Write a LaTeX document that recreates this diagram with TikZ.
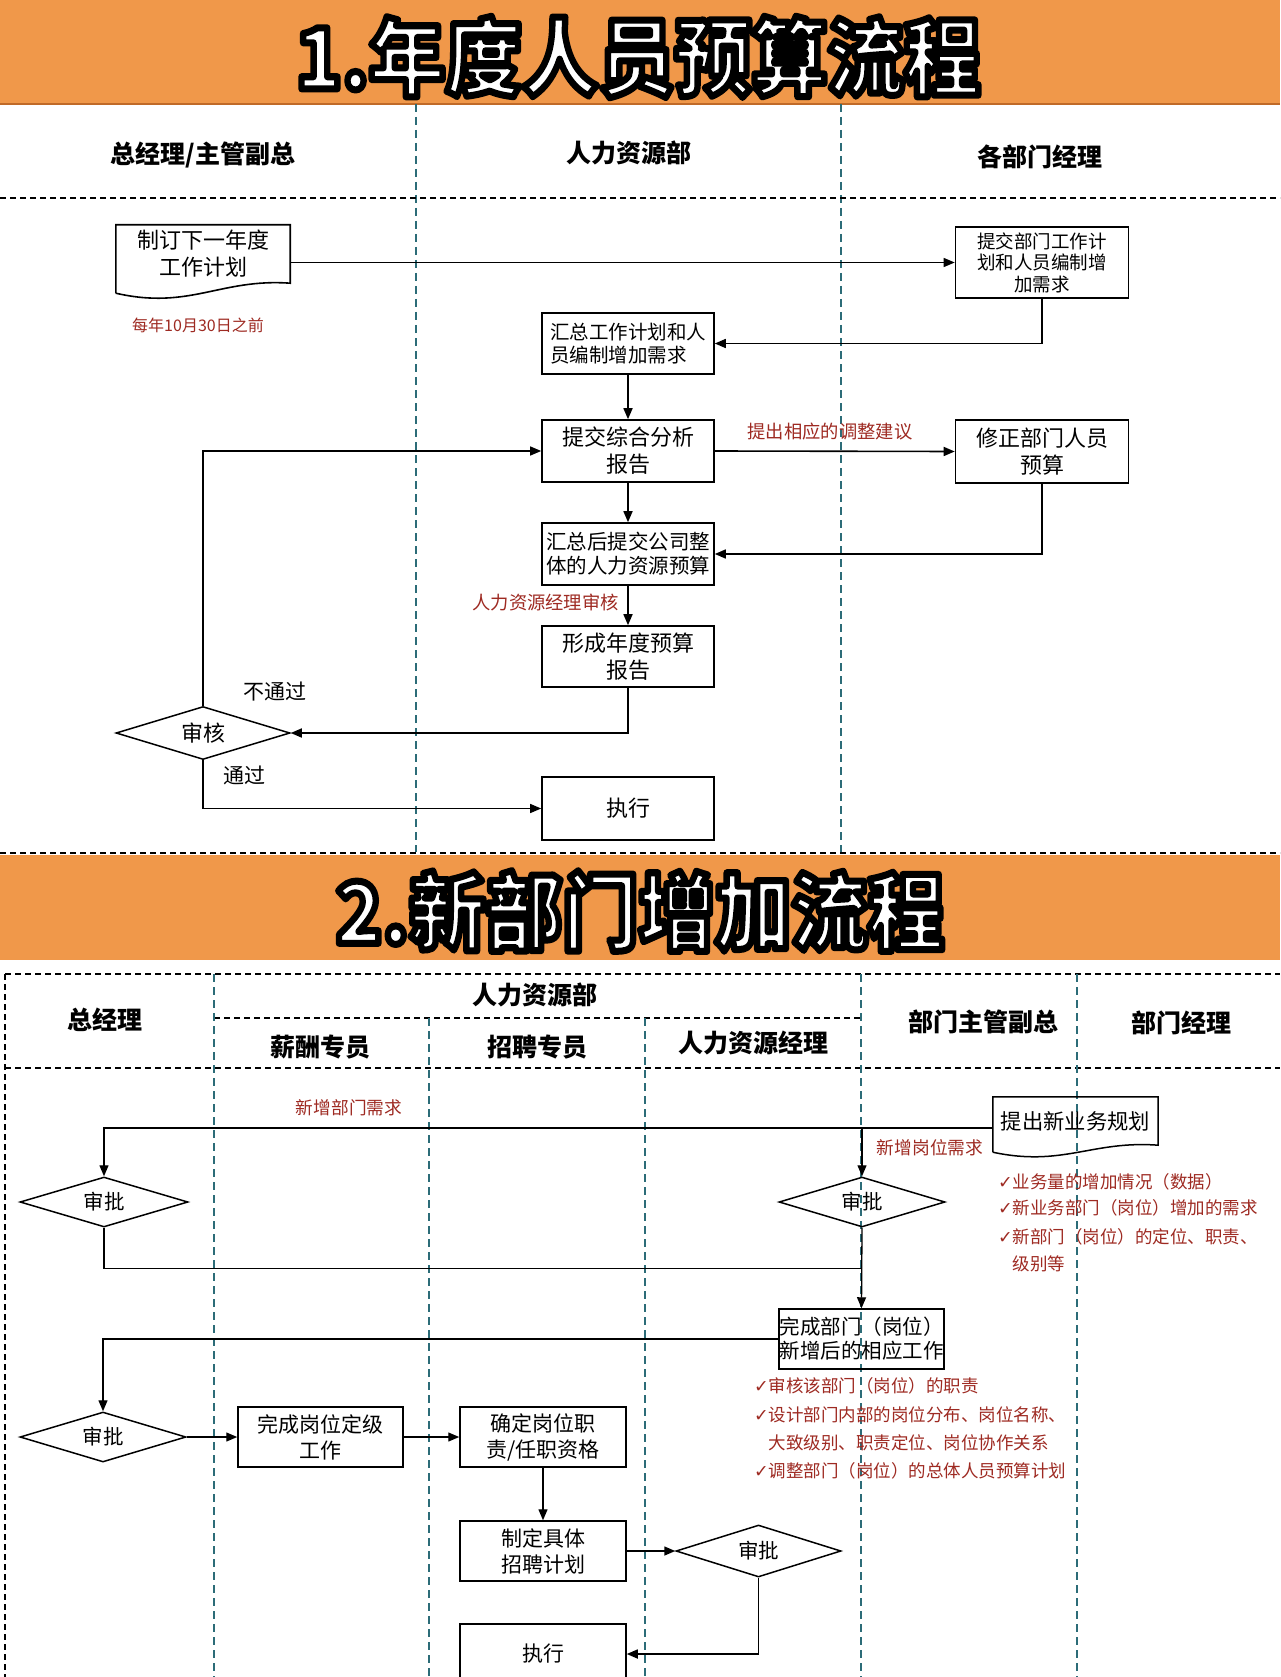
\documentclass[tikz,border=0pt]{standalone}
\usepackage{graphicx}
\usepackage{fontspec}
\setmainfont{Noto Sans CJK SC}
\newfontfamily\dejavu{DejaVu Sans}
\usetikzlibrary{arrows.meta,shapes.geometric,calc}
\definecolor{bannerorange}{HTML}{F0984A}
\definecolor{bannerline}{HTML}{C06A28}
\definecolor{laneteal}{HTML}{2C6C78}
\definecolor{notered}{HTML}{9E2A22}
\newcommand{\ck}{{\dejavu\char"2713}}
\newcommand{\fsz}[2]{\fontsize{#1}{#2}\selectfont}
\newcommand{\titletext}[1]{\scalebox{0.91}[1]{\color{white}\special{pdf:literal direct q 0 0 0 RG 7 w 1 j 2 Tr}#1\special{pdf:literal direct Q}}}
\begin{document}
\begin{tikzpicture}[x=1pt,y=-1pt,
  every node/.style={inner sep=2pt},
  lanediv/.style={draw=laneteal, line width=1.3pt, dash pattern=on 8pt off 5pt},
  borderdash/.style={draw=black, line width=2.2pt, dash pattern=on 6pt off 4pt},
  proc/.style={draw, line width=1.6pt, minimum width=172pt, minimum height=61pt, align=center, inner sep=0pt},
  procb/.style={draw, line width=1.5pt, minimum width=165pt, minimum height=60pt, align=center, inner sep=0pt, font=\fsz{21}{26}},
  doctext/.style={align=center, inner sep=0pt},
  decide/.style={draw, diamond, aspect=3, line width=1.5pt, inner sep=2pt},
  conn/.style={line width=1.6pt},
  arr/.style={line width=1.6pt, -{Triangle[length=11pt,width=9pt]}},
  thinarr/.style={line width=1.3pt, -{Triangle[length=11pt,width=9pt]}},
  lanehead/.style={font=\bfseries\fsz{25}{30}},
  note/.style={text=notered, inner sep=0pt},
  bigtitle/.style={font=\bfseries\fsz{84}{88}},
]
\useasboundingbox (0,0) rectangle (1280,1677);
\clip (0,0) rectangle (1280,1677);
\fill[white] (0,0) rectangle (1280,1677);

% ---------------- Section 1 ----------------
\fill[bannerorange] (0,0) rectangle (1280,104);
\draw[bannerline, line width=1.5pt] (0,104) -- (1280,104);

\draw[lanediv] (416,104) -- (416,852);
\draw[lanediv] (841,104) -- (841,852);
\draw[borderdash] (0,198) -- (1280,198);

\node[bigtitle] (title1) at (638,57) {\titletext{1.年度人员预算流程}};

\node[lanehead] (h11) at (203,155) {总经理/主管副总};
\node[lanehead] (h12) at (629,153) {人力资源部};
\node[lanehead] (h13) at (1040,157) {各部门经理};

% document shape 1
\node[doctext, minimum width=174pt, minimum height=58pt, font=\fsz{22}{27}] (doc1) at (203,254) {制订下一年度\\工作计划};
\draw[line width=1.6pt] ($(doc1.south west)+(0,10)$) -- (doc1.north west) -- (doc1.north east) -- (doc1.south east)
  .. controls ($(doc1.south east)+(-70,-5)$) and ($(doc1.south west)+(74,27)$) .. ($(doc1.south west)+(0,10)$);
\node[note, font=\fsz{16}{19}] (n11) at (198,325) {每年10月30日之前};

\node[proc, minimum width=173pt, minimum height=71pt, font=\fsz{18.5}{21.5}] (rbox1) at (1042,262.5) {提交部门工作计\\划和人员编制增\\加需求};
\node[proc, align=left, font=\fsz{19.5}{22.5}] (box1) at (628,343.5) {汇总工作计划和人\\员编制增加需求};
\node[proc, minimum height=62pt, font=\fsz{22}{27}] (box2) at (628,451) {提交综合分析\\报告};
\node[proc, minimum width=173pt, minimum height=63pt, font=\fsz{22}{27}] (rbox2) at (1042,451.5) {修正部门人员\\预算};
\node[proc, minimum height=62pt, font=\fsz{20.5}{24}] (box3) at (628,554) {汇总后提交公司整\\体的人力资源预算};
\node[proc, font=\fsz{22}{27}] (box4) at (628,656.5) {形成年度预算\\报告};
\node[decide, minimum width=174pt, minimum height=53pt, font=\fsz{22}{26}] (dia1) at (203,733) {审核};
\node[proc, minimum height=63pt, font=\fsz{22}{27}] (exec1) at (628,808.5) {执行};

\draw[thinarr] (doc1.east |- rbox1.west) -- (rbox1.west);
\draw[arr] (rbox1.south) |- (box1.east);
\draw[arr] (box1.south) -- (box2.north);
\draw[arr] (box2.east) -- (rbox2.west);
\node[note, font=\fsz{18.3}{22}] (n12) at (830,432) {提出相应的调整建议};
\draw[arr] (rbox2.south) |- (box3.east);
\draw[arr] (box2.south) -- (box3.north);
\draw[arr] (box3.south) -- (box4.north);
\node[note, font=\fsz{18.3}{22}, anchor=east] (n13) at (619,603) {人力资源经理审核};
\draw[arr] (box4.south) |- (dia1.east);
\draw[thinarr] (dia1.north) |- (box2.west);
\node[font=\fsz{21}{25}] (n14) at (275,692) {不通过};
\draw[thinarr] (dia1.south) |- (exec1.west);
\node[font=\fsz{21}{25}] (n15) at (244,775) {通过};

% ---------------- Section 2 ----------------
\fill[bannerorange] (0,855) rectangle (1280,960);
\draw[borderdash, line width=1.5pt] (0,853) -- (1280,853);
\node[bigtitle] (title2) at (640,911) {\titletext{2.新部门增加流程}};

\draw[borderdash] (5,974) -- (1280,974);
\draw[borderdash] (5,1068) -- (1280,1068);
\draw[borderdash] (5,974) -- (5,1677);
\draw[borderdash, line width=1.6pt] (214,1018) -- (861,1018);
\draw[lanediv] (214,974) -- (214,1677);
\draw[lanediv] (429,1018) -- (429,1677);
\draw[lanediv] (645,1018) -- (645,1677);
\draw[lanediv] (861,974) -- (861,1677);
\draw[lanediv] (1077,974) -- (1077,1677);

\node[lanehead] (h21) at (105,1020) {总经理};
\node[lanehead] (h22) at (535,995) {人力资源部};
\node[lanehead] (h23) at (320,1047) {薪酬专员};
\node[lanehead] (h24) at (537,1047) {招聘专员};
\node[lanehead] (h25) at (753,1043) {人力资源经理};
\node[lanehead] (h26) at (983,1022) {部门主管副总};
\node[lanehead] (h27) at (1181,1023) {部门经理};

% document shape 2
\node[doctext, minimum width=165pt, minimum height=48pt, font=\fsz{21.3}{25}] (doc2) at (1075.5,1121) {提出新业务规划};
\draw[line width=1.5pt] ($(doc2.south west)+(0,7)$) -- (doc2.north west) -- (doc2.north east) -- (doc2.south east)
  .. controls ($(doc2.south east)+(-66,-5)$) and ($(doc2.south west)+(70,22)$) .. ($(doc2.south west)+(0,7)$);

\node[decide, minimum width=168pt, minimum height=50pt, font=\fsz{20.5}{24}] (dia1b) at (104,1202) {审批};
\node[decide, minimum width=166pt, minimum height=50pt, font=\fsz{20.5}{24}] (dia2b) at (862,1202) {审批};
\node[procb, font=\fsz{20.5}{24}] (box5) at (861.5,1339) {完成部门（岗位）\\新增后的相应工作};
\node[decide, minimum width=166pt, minimum height=50pt, font=\fsz{20.5}{24}] (dia3b) at (103,1437) {审批};
\node[procb] (box6) at (320.5,1437) {完成岗位定级\\工作};
\node[procb, minimum width=166pt] (box7) at (543,1437) {确定岗位职\\责/任职资格};
\node[procb, minimum width=166pt] (box8) at (543,1551) {制定具体\\招聘计划};
\node[decide, minimum width=165pt, minimum height=52pt, font=\fsz{20.5}{24}] (dia4b) at (758.5,1551) {审批};
\node[procb, minimum width=166pt] (exec2) at (543,1654) {执行};

\coordinate (d2w) at ($(doc2.west)+(0,7)$);
\coordinate (m1) at ($(dia1b.south)+(0,41)$);
\draw[thinarr] (d2w) -| (dia1b.north);
\draw[thinarr] (dia2b.north |- d2w) -- (dia2b.north);
\node[note, font=\fsz{17.7}{21}] (n21) at (349,1108) {新增部门需求};
\node[note, font=\fsz{17.7}{21}] (n22) at (930,1148) {新增岗位需求};
\draw[line width=1.3pt] (dia1b.south) |- (dia2b.south |- m1);
\draw[thinarr] (dia2b.south) -- (box5.north);
\draw[thinarr] (box5.west) -| (dia3b.north);
\draw[thinarr] (dia3b.east) -- (box6.west);
\draw[thinarr] (box6.east) -- (box7.west);
\draw[thinarr] (box7.south) -- (box8.north);
\draw[arr] (box8.east) -- (dia4b.west);
\draw[arr] (dia4b.south) |- (exec2.east);

\begin{scope}[every node/.style={note, anchor=west, font=\fsz{17.5}{21}}]
\node (l11) at (998,1182) {\ck 业务量的增加情况（数据）};
\node (l12) at (998,1208) {\ck 新业务部门（岗位）增加的需求};
\node (l13) at (998,1237) {\ck 新部门（岗位）的定位、职责、};
\node (l14) at (998,1264) {\hphantom{\ck}级别等};
\node (l21) at (754,1386) {\ck 审核该部门（岗位）的职责};
\node (l22) at (754,1415) {\ck 设计部门内部的岗位分布、岗位名称、};
\node (l23) at (754,1443) {\hphantom{\ck}大致级别、职责定位、岗位协作关系};
\node (l24) at (754,1471) {\ck 调整部门（岗位）的总体人员预算计划};
\end{scope}
\end{tikzpicture}
\end{document}
